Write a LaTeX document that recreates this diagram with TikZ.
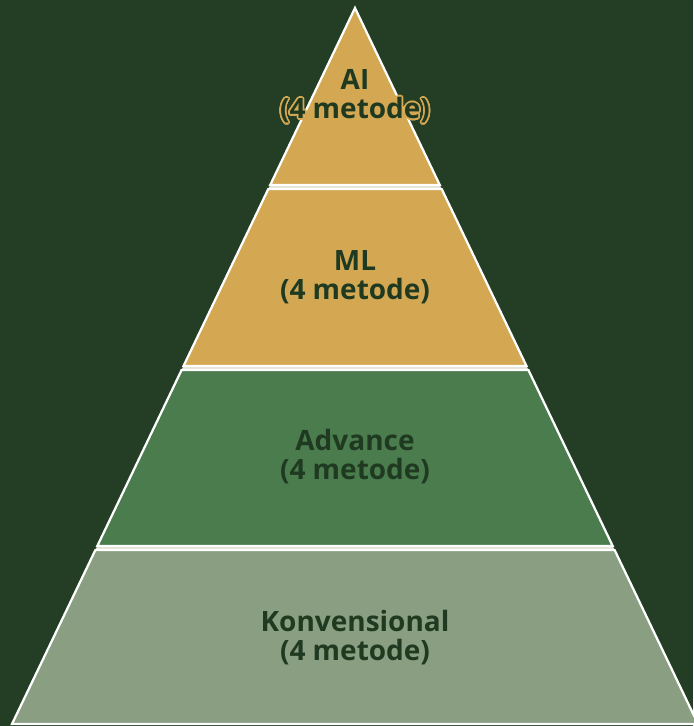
\documentclass[tikz,border=0pt]{standalone}
\usepackage{fontspec}
\setmainfont{Open Sans}
\usepackage{contour}
\contourlength{1.1pt}
\contournumber{24}
\usetikzlibrary{positioning}
\definecolor{bgdark}  {HTML}{233E25}
\definecolor{gold}    {HTML}{D4A853}
\definecolor{leaf}    {HTML}{4A7C4D}
\definecolor{sage}    {HTML}{8A9E82}
\definecolor{ink}     {HTML}{1F3A21}
\definecolor{seam}    {HTML}{E4E1D6}
\tikzset{
  layer/.style={draw=white, line width=1.6pt, line join=miter},
  layerlabel/.style={
    text=ink, font=\fontsize{19.9}{20.6}\selectfont\bfseries,
    align=center, inner sep=0pt
  }
}

\begin{document}
\begin{tikzpicture}[x=0.025cm, y=-0.025cm]
  % background
  \fill[bgdark] (0,0) rectangle (693,726);
  \useasboundingbox (0,0) rectangle (693,726);
  % seams between the layers
  \fill[seam] (355,8) -- (698,724) -- (12,724) -- cycle;
  % layers, top to bottom
  \draw[layer, fill=gold] (355,8) -- (439.8,185) -- (270.2,185) -- cycle;
  \draw[layer, fill=gold] (268.3,189) -- (441.7,189) -- (526.5,366) -- (183.5,366) -- cycle;
  \draw[layer, fill=leaf] (181.6,370) -- (528.4,370) -- (612.7,546) -- (97.3,546) -- cycle;
  \draw[layer, fill=sage] (95.4,550) -- (614.6,550) -- (698,724) -- (12,724) -- cycle;
  % labels
  \node[layerlabel] (ai)   at (355,97)  {\contour{gold}{AI}\\\contour{gold}{(4 metode)}};
  \node[layerlabel] (ml)   at (355,277) {ML\\(4 metode)};
  \node[layerlabel] (adv)  at (355,457) {Advance\\(4 metode)};
  \node[layerlabel] (konv) at (355,638) {Konvensional\\(4 metode)};
\end{tikzpicture}
\end{document}
